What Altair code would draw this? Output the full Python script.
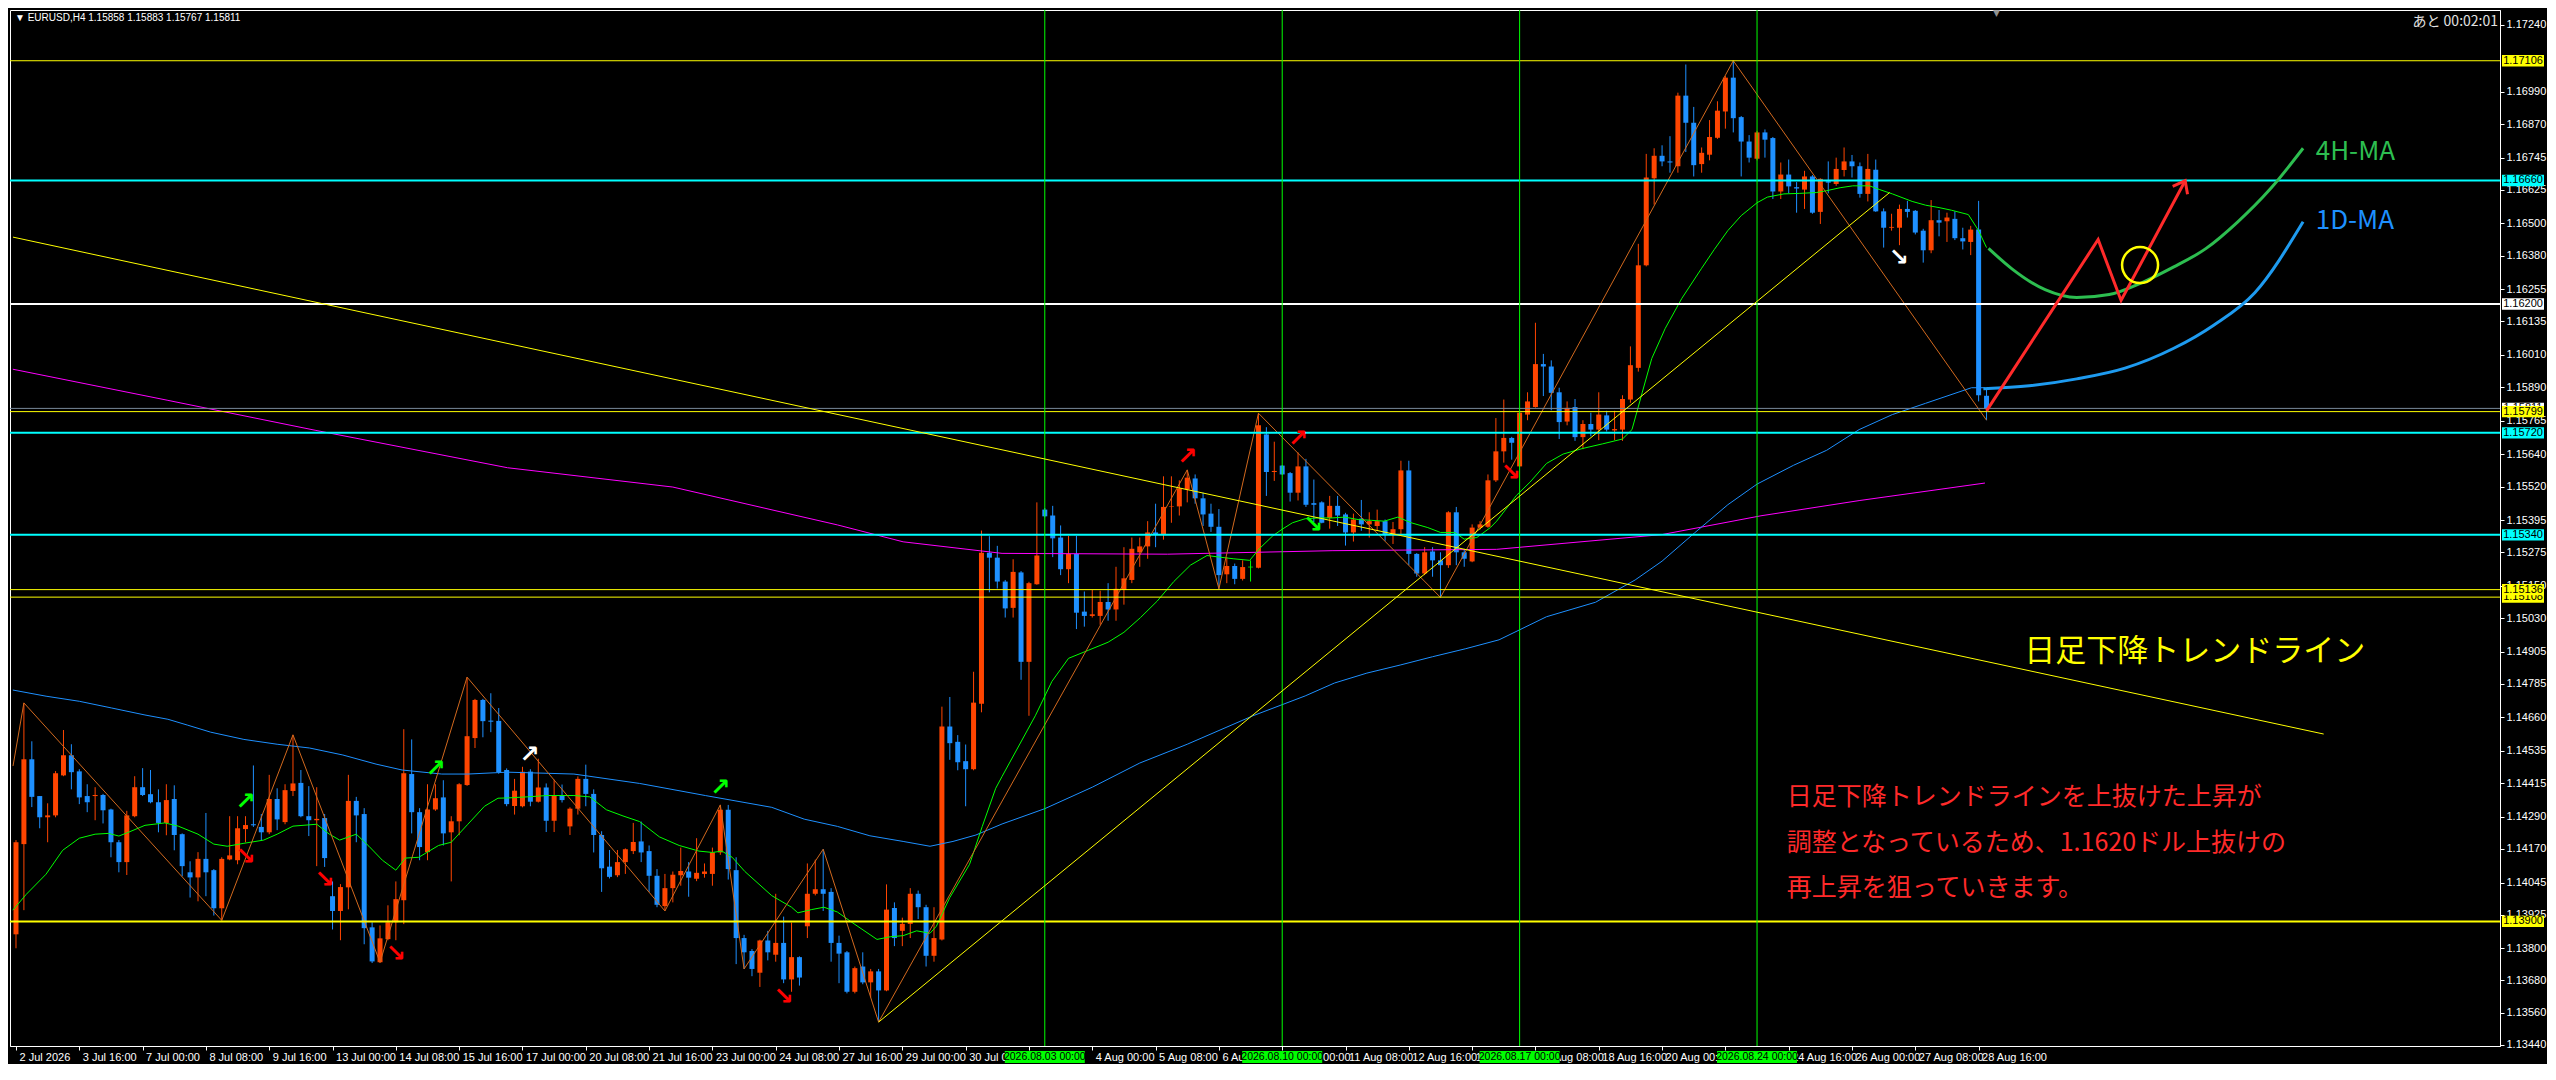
import altair as alt
import pandas as pd
import numpy as np

# ---------------- candle data (EURUSD H4, bar 0 = 2 Jul 08:00) ----------------
OPEN = [
    1.13852, 1.14188, 1.14504, 1.14367, 1.14288, 1.14295, 1.14444, 1.14519, 1.14459, 1.14367,
    1.14367, 1.14371, 1.14317, 1.14195, 1.14121, 1.14292, 1.14400, 1.14374, 1.14344, 1.14267,
    1.14356, 1.14225, 1.14083, 1.14064, 1.14133, 1.14091, 1.13949, 1.14131, 1.14128, 1.14244,
    1.14262, 1.14252, 1.14232, 1.14356, 1.14270, 1.14386, 1.14416, 1.14292, 1.14277, 1.14285,
    1.13994, 1.13939, 1.14027, 1.14349, 1.14300, 1.13878, 1.13748, 1.13834, 1.13897, 1.13979,
    1.14449, 1.14307, 1.14158, 1.14317, 1.14362, 1.14232, 1.14273, 1.14408, 1.14583, 1.14725,
    1.14648, 1.14647, 1.14464, 1.14330, 1.14329, 1.14458, 1.14346, 1.14399, 1.14275, 1.14369,
    1.14254, 1.14320, 1.14431, 1.14375, 1.14222, 1.14104, 1.14072, 1.14121, 1.14162, 1.14198,
    1.14162, 1.14070, 1.13957, 1.14024, 1.14072, 1.14086, 1.14059, 1.14077, 1.14077, 1.14157,
    1.14316, 1.14091, 1.13838, 1.13790, 1.13709, 1.13829, 1.13776, 1.13820, 1.13684, 1.13767,
    1.13882, 1.14003, 1.14020, 1.14010, 1.13820, 1.13785, 1.13638, 1.13732, 1.13673, 1.13714,
    1.13643, 1.13950, 1.13865, 1.13891, 1.14003, 1.13953, 1.13772, 1.13833, 1.14626, 1.14569,
    1.14497, 1.14467, 1.14711, 1.15273, 1.15255, 1.15166, 1.15068, 1.15200, 1.14867, 1.15156,
    1.15434, 1.15412, 1.15330, 1.15212, 1.15269, 1.15054, 1.15038, 1.15038, 1.15090, 1.15062,
    1.15135, 1.15172, 1.15275, 1.15297, 1.15349, 1.15342, 1.15444, 1.15446, 1.15509, 1.15550,
    1.15476, 1.15419, 1.15370, 1.15193, 1.15224, 1.15176, 1.15220, 1.15217, 1.15714, 1.15574,
    1.15598, 1.15570, 1.15497, 1.15595, 1.15458, 1.15461, 1.15403, 1.15448, 1.15416, 1.15349,
    1.15400, 1.15379, 1.15373, 1.15391, 1.15342, 1.15361, 1.15580, 1.15269, 1.15196, 1.15278,
    1.15245, 1.15227, 1.15424, 1.15275, 1.15241, 1.15367, 1.15370, 1.15543, 1.15651, 1.15701,
    1.15595, 1.15788, 1.15816, 1.15976, 1.15967, 1.15871, 1.15762, 1.15816, 1.15704, 1.15753,
    1.15732, 1.15785, 1.15729, 1.15732, 1.15844, 1.15962, 1.16344, 1.16668, 1.16752, 1.16731,
    1.16713, 1.16976, 1.16875, 1.16721, 1.16756, 1.16819, 1.16917, 1.17043, 1.16896, 1.16805,
    1.16741, 1.16839, 1.16818, 1.16619, 1.16682, 1.16635, 1.16626, 1.16675, 1.16543, 1.16657,
    1.16647, 1.16699, 1.16731, 1.16713, 1.16610, 1.16700, 1.16545, 1.16484, 1.16484, 1.16554,
    1.16547, 1.16473, 1.16400, 1.16512, 1.16508, 1.16517, 1.16445, 1.16431, 1.16477, 1.15858,
]
HIGH = [
    1.14203, 1.14714, 1.14571, 1.14367, 1.14340, 1.14460, 1.14613, 1.14560, 1.14467, 1.14411,
    1.14400, 1.14375, 1.14320, 1.14203, 1.14312, 1.14441, 1.14471, 1.14464, 1.14392, 1.14411,
    1.14407, 1.14228, 1.14124, 1.14158, 1.14304, 1.14095, 1.14139, 1.14292, 1.14292, 1.14292,
    1.14481, 1.14300, 1.14446, 1.14396, 1.14411, 1.14595, 1.14464, 1.14404, 1.14400, 1.14300,
    1.14049, 1.14039, 1.14446, 1.14364, 1.14322, 1.13897, 1.13885, 1.13960, 1.14049, 1.14616,
    1.14578, 1.14322, 1.14411, 1.14411, 1.14426, 1.14292, 1.14415, 1.14810, 1.14729, 1.14729,
    1.14750, 1.14695, 1.14470, 1.14431, 1.14476, 1.14467, 1.14506, 1.14414, 1.14428, 1.14410,
    1.14325, 1.14440, 1.14484, 1.14392, 1.14236, 1.14166, 1.14166, 1.14172, 1.14267, 1.14272,
    1.14183, 1.14095, 1.14077, 1.14086, 1.14175, 1.14121, 1.14210, 1.14116, 1.14175, 1.14334,
    1.14334, 1.14139, 1.13850, 1.13797, 1.13832, 1.13865, 1.14003, 1.13918, 1.13896, 1.13770,
    1.14116, 1.14130, 1.14169, 1.14024, 1.13847, 1.13790, 1.13732, 1.13785, 1.13723, 1.13723,
    1.14038, 1.13971, 1.13914, 1.14024, 1.14015, 1.13962, 1.13953, 1.14700, 1.14736, 1.14594,
    1.14559, 1.14830, 1.15356, 1.15335, 1.15299, 1.15172, 1.15249, 1.15205, 1.15165, 1.15461,
    1.15440, 1.15448, 1.15375, 1.15336, 1.15336, 1.15129, 1.15135, 1.15132, 1.15160, 1.15221,
    1.15294, 1.15330, 1.15330, 1.15391, 1.15456, 1.15558, 1.15558, 1.15543, 1.15582, 1.15565,
    1.15497, 1.15456, 1.15436, 1.15257, 1.15233, 1.15245, 1.15245, 1.15793, 1.15741, 1.15687,
    1.15600, 1.15574, 1.15647, 1.15623, 1.15546, 1.15465, 1.15485, 1.15485, 1.15422, 1.15419,
    1.15470, 1.15424, 1.15434, 1.15397, 1.15388, 1.15616, 1.15616, 1.15272, 1.15294, 1.15294,
    1.15275, 1.15428, 1.15444, 1.15288, 1.15379, 1.15391, 1.15565, 1.15775, 1.15844, 1.15705,
    1.15800, 1.15871, 1.16130, 1.16014, 1.15990, 1.15888, 1.15837, 1.15846, 1.15767, 1.15795,
    1.15871, 1.15802, 1.15802, 1.15860, 1.16042, 1.16424, 1.16759, 1.16780, 1.16791, 1.16825,
    1.16987, 1.17092, 1.16934, 1.16783, 1.16885, 1.16955, 1.17049, 1.17106, 1.16900, 1.16829,
    1.16845, 1.16850, 1.16822, 1.16727, 1.16738, 1.16654, 1.16696, 1.16680, 1.16668, 1.16731,
    1.16745, 1.16783, 1.16755, 1.16727, 1.16759, 1.16738, 1.16556, 1.16536, 1.16570, 1.16584,
    1.16550, 1.16480, 1.16587, 1.16550, 1.16540, 1.16545, 1.16484, 1.16491, 1.16584, 1.15883,
]
LOW = [
    1.13800, 1.13942, 1.14326, 1.14247, 1.14195, 1.14288, 1.14441, 1.14392, 1.14337, 1.14307,
    1.14277, 1.14265, 1.14139, 1.14083, 1.14073, 1.14288, 1.14367, 1.14340, 1.14232, 1.14221,
    1.14165, 1.14068, 1.13989, 1.13975, 1.13994, 1.13922, 1.13904, 1.14128, 1.14113, 1.14195,
    1.14252, 1.14200, 1.14225, 1.14240, 1.14262, 1.14367, 1.14288, 1.14218, 1.14106, 1.14103,
    1.13870, 1.13830, 1.13945, 1.14195, 1.13815, 1.13745, 1.13745, 1.13830, 1.13830, 1.13890,
    1.14228, 1.14128, 1.14128, 1.14312, 1.14183, 1.14049, 1.14221, 1.14405, 1.14546, 1.14586,
    1.14605, 1.14450, 1.14329, 1.14298, 1.14325, 1.14329, 1.14343, 1.14233, 1.14233, 1.14343,
    1.14222, 1.14298, 1.14329, 1.14157, 1.14010, 1.14060, 1.14065, 1.14077, 1.14151, 1.14121,
    1.14010, 1.13953, 1.13939, 1.13971, 1.14033, 1.13992, 1.14050, 1.14063, 1.14033, 1.14148,
    1.14056, 1.13741, 1.13723, 1.13696, 1.13656, 1.13755, 1.13750, 1.13670, 1.13638, 1.13661,
    1.13838, 1.13997, 1.13939, 1.13750, 1.13670, 1.13632, 1.13632, 1.13666, 1.13617, 1.13525,
    1.13640, 1.13808, 1.13808, 1.13838, 1.13909, 1.13732, 1.13750, 1.13829, 1.14502, 1.14463,
    1.14329, 1.14463, 1.14679, 1.15126, 1.15140, 1.15032, 1.15032, 1.14800, 1.14666, 1.15154,
    1.15405, 1.15257, 1.15190, 1.15160, 1.14989, 1.14998, 1.15032, 1.15005, 1.15020, 1.15020,
    1.15080, 1.15160, 1.15221, 1.15251, 1.15294, 1.15322, 1.15385, 1.15412, 1.15461, 1.15456,
    1.15373, 1.15351, 1.15139, 1.15160, 1.15156, 1.15170, 1.15166, 1.15215, 1.15485, 1.15541,
    1.15563, 1.15464, 1.15468, 1.15444, 1.15388, 1.15383, 1.15363, 1.15373, 1.15300, 1.15315,
    1.15355, 1.15330, 1.15355, 1.15318, 1.15306, 1.15342, 1.15227, 1.15184, 1.15190, 1.15184,
    1.15107, 1.15217, 1.15227, 1.15221, 1.15238, 1.15360, 1.15366, 1.15537, 1.15609, 1.15620,
    1.15592, 1.15767, 1.15814, 1.15857, 1.15804, 1.15697, 1.15748, 1.15690, 1.15659, 1.15707,
    1.15693, 1.15725, 1.15693, 1.15690, 1.15832, 1.15948, 1.16340, 1.16570, 1.16713, 1.16689,
    1.16689, 1.16766, 1.16675, 1.16689, 1.16735, 1.16815, 1.16853, 1.16839, 1.16675, 1.16727,
    1.16735, 1.16745, 1.16591, 1.16591, 1.16612, 1.16540, 1.16554, 1.16536, 1.16498, 1.16612,
    1.16640, 1.16675, 1.16671, 1.16596, 1.16582, 1.16543, 1.16410, 1.16473, 1.16419, 1.16522,
    1.16459, 1.16354, 1.16389, 1.16452, 1.16431, 1.16438, 1.16403, 1.16382, 1.15837, 1.15767,
]
CLOSE = [
    1.14195, 1.14504, 1.14364, 1.14288, 1.14295, 1.14452, 1.14519, 1.14456, 1.14362, 1.14344,
    1.14371, 1.14314, 1.14195, 1.14121, 1.14295, 1.14400, 1.14371, 1.14344, 1.14267, 1.14352,
    1.14222, 1.14106, 1.14064, 1.14133, 1.14083, 1.13949, 1.14133, 1.14146, 1.14247, 1.14259,
    1.14258, 1.14232, 1.14356, 1.14280, 1.14389, 1.14414, 1.14292, 1.14277, 1.14282, 1.14136,
    1.13939, 1.14028, 1.14349, 1.14295, 1.13875, 1.13751, 1.13837, 1.13897, 1.13983, 1.14452,
    1.14307, 1.14177, 1.14317, 1.14359, 1.14228, 1.14273, 1.14411, 1.14590, 1.14725, 1.14646,
    1.14644, 1.14456, 1.14337, 1.14387, 1.14458, 1.14346, 1.14399, 1.14275, 1.14369, 1.14352,
    1.14320, 1.14431, 1.14375, 1.14222, 1.14098, 1.14066, 1.14121, 1.14169, 1.14196, 1.14157,
    1.14070, 1.13962, 1.14024, 1.14074, 1.14088, 1.14063, 1.14081, 1.14086, 1.14157, 1.14316,
    1.14095, 1.13838, 1.13785, 1.13723, 1.13829, 1.13785, 1.13820, 1.13684, 1.13767, 1.13691,
    1.14003, 1.14020, 1.14003, 1.13820, 1.13780, 1.13638, 1.13726, 1.13673, 1.13714, 1.13643,
    1.13944, 1.13838, 1.13891, 1.14003, 1.13953, 1.13772, 1.13838, 1.14626, 1.14564, 1.14493,
    1.14467, 1.14715, 1.15273, 1.15255, 1.15166, 1.15066, 1.15202, 1.14867, 1.15160, 1.15263,
    1.15409, 1.15327, 1.15212, 1.15269, 1.15050, 1.15038, 1.15044, 1.15090, 1.15062, 1.15139,
    1.15178, 1.15288, 1.15297, 1.15349, 1.15342, 1.15444, 1.15446, 1.15513, 1.15553, 1.15476,
    1.15416, 1.15370, 1.15190, 1.15224, 1.15176, 1.15220, 1.15220, 1.15748, 1.15574, 1.15578,
    1.15565, 1.15497, 1.15595, 1.15452, 1.15452, 1.15385, 1.15448, 1.15412, 1.15349, 1.15397,
    1.15379, 1.15391, 1.15391, 1.15342, 1.15361, 1.15580, 1.15269, 1.15196, 1.15275, 1.15245,
    1.15227, 1.15424, 1.15275, 1.15251, 1.15367, 1.15379, 1.15543, 1.15651, 1.15701, 1.15683,
    1.15795, 1.15837, 1.15976, 1.15967, 1.15869, 1.15760, 1.15813, 1.15704, 1.15753, 1.15732,
    1.15788, 1.15732, 1.15734, 1.15846, 1.15972, 1.16344, 1.16671, 1.16752, 1.16731, 1.16727,
    1.16976, 1.16875, 1.16717, 1.16763, 1.16822, 1.16920, 1.17043, 1.16892, 1.16805, 1.16745,
    1.16839, 1.16812, 1.16619, 1.16682, 1.16638, 1.16630, 1.16675, 1.16540, 1.16666, 1.16652,
    1.16703, 1.16731, 1.16713, 1.16610, 1.16703, 1.16545, 1.16484, 1.16487, 1.16554, 1.16543,
    1.16466, 1.16400, 1.16512, 1.16503, 1.16522, 1.16445, 1.16433, 1.16477, 1.15860, 1.15811,
]

# ---------------- indicator lines (bar, price) ----------------
MA_4H = [
    (-0.4, 1.13942), (1.3, 1.14001), (3.8, 1.14076), (5.9, 1.14165), (8, 1.14210), (10, 1.14225),
    (11.7, 1.14228), (13, 1.14218), (14.2, 1.14232), (16.3, 1.14258), (18.8, 1.14267), (20.5, 1.14255),
    (23, 1.14225), (25, 1.14188), (26.7, 1.14180), (28.8, 1.14191), (31.3, 1.14203), (33, 1.14225),
    (35, 1.14255), (38, 1.14262), (39.6, 1.14225), (40.9, 1.14203), (43, 1.14225), (44.6, 1.14180),
    (46.3, 1.14128), (48, 1.14091), (49.2, 1.14136), (50.9, 1.14139), (53.4, 1.14183), (55, 1.14195),
    (57.1, 1.14262), (59.2, 1.14329), (60.9, 1.14359), (62.1, 1.14360), (64.6, 1.14364), (67.1, 1.14369),
    (70.5, 1.14369), (72.5, 1.14364), (74.6, 1.14316), (76.7, 1.14293), (78.8, 1.14272), (81.3, 1.14215),
    (83.8, 1.14183), (86.3, 1.14162), (88, 1.14157), (89.2, 1.14162), (90.5, 1.14139), (92.1, 1.14086),
    (95.5, 1.13996), (98, 1.13953), (98.8, 1.13932), (100.5, 1.13944), (102.1, 1.13953), (103.8, 1.13935),
    (105.9, 1.13891), (108.8, 1.13833), (110.5, 1.13843), (112.1, 1.13847), (113.8, 1.13865), (115.5, 1.13856),
    (116.3, 1.13882), (118, 1.13989), (120.5, 1.14113), (122.1, 1.14254), (123.8, 1.14396), (124.6, 1.14440),
    (128.8, 1.14666), (130.9, 1.14794), (133, 1.14880), (135.5, 1.14910), (138, 1.14940), (140, 1.14977),
    (142.1, 1.15032), (144.2, 1.15093), (146.3, 1.15166), (148.4, 1.15227), (150.5, 1.15263), (152.1, 1.15257),
    (153.8, 1.15251), (155.9, 1.15245), (157.1, 1.15288), (158.8, 1.15336), (160, 1.15361), (161.3, 1.15385),
    (162.9, 1.15400), (164.6, 1.15403), (166.3, 1.15403), (167.9, 1.15406), (169.6, 1.15397), (171.3, 1.15394),
    (172.9, 1.15391), (174.6, 1.15406), (176.3, 1.15385), (178.4, 1.15367), (180, 1.15349), (181.8, 1.15349),
    (183, 1.15324), (184.6, 1.15330), (186.3, 1.15367), (187.1, 1.15391), (189.6, 1.15487), (191.3, 1.15536),
    (193.4, 1.15606), (195.5, 1.15641), (198, 1.15662), (200.5, 1.15679), (203, 1.15697), (204.2, 1.15732),
    (205.5, 1.15871), (206.7, 1.15997), (208.4, 1.16109), (210.5, 1.16221), (213, 1.16333), (214.6, 1.16403),
    (216.3, 1.16473), (218, 1.16529), (220, 1.16577), (221.3, 1.16598), (223.4, 1.16610), (225.4, 1.16612),
    (227.5, 1.16615), (228.8, 1.16622), (230.5, 1.16633), (232.1, 1.16640), (234.2, 1.16640), (235.5, 1.16626),
    (237.1, 1.16610), (239.6, 1.16582), (241.3, 1.16568), (243, 1.16559), (244.6, 1.16549), (246.7, 1.16533),
    (248, 1.16473), (249, 1.16410),
]
MA_1D = [
    (-0.4, 1.14762), (3.8, 1.14739), (8, 1.14720), (12.1, 1.14695), (16.3, 1.14669), (19.2, 1.14653),
    (21.7, 1.14631), (24.6, 1.14605), (28.8, 1.14578), (33, 1.14560), (37.1, 1.14546), (41.3, 1.14520),
    (45.5, 1.14486), (48.8, 1.14464), (53.8, 1.14449), (57.1, 1.14449), (62.1, 1.14456), (70.5, 1.14449),
    (78.8, 1.14414), (87.1, 1.14369), (95.5, 1.14325), (99.6, 1.14281), (103.8, 1.14254), (107.9, 1.14219),
    (112.1, 1.14198), (115.5, 1.14180), (118.4, 1.14198), (121.3, 1.14222), (124.6, 1.14263), (130, 1.14320),
    (136, 1.14400), (142, 1.14490), (148, 1.14560), (156.3, 1.14666), (162.9, 1.14740), (166.6, 1.14788),
    (170.7, 1.14825), (174.9, 1.14855), (179, 1.14886), (183.2, 1.14916), (187.4, 1.14949), (193.4, 1.15035),
    (199.6, 1.15089), (204.6, 1.15172), (208, 1.15242), (212.1, 1.15347), (216.3, 1.15452), (220, 1.15529),
    (224.6, 1.15599), (228.8, 1.15655), (232.9, 1.15732), (237.1, 1.15788), (241.3, 1.15830), (245.4, 1.15871),
    (247.1, 1.15888), (248.8, 1.15888),
]
MA_LONG = [
    (-0.4, 1.15957), (19.2, 1.15841), (37.9, 1.15729), (62.1, 1.15590), (83, 1.15518), (103.8, 1.15377),
    (112.1, 1.15314), (124.6, 1.15271), (145.5, 1.15268), (166.3, 1.15281), (187.1, 1.15286), (208, 1.15341),
    (220.5, 1.15411), (233, 1.15468), (248.8, 1.15533),
]
ZIGZAG = [
    (-0.375, 1.14479), (1, 1.14714), (26, 1.13904), (35, 1.14595), (46, 1.13748), (57, 1.14810),
    (82, 1.13939), (89, 1.14334), (92, 1.13723), (102, 1.14169), (109, 1.13525), (148, 1.15582),
    (152, 1.15139), (157, 1.15793), (180, 1.15107), (217, 1.17106), (249, 1.15767),
]
TREND_DOWN = [(-0.375, 1.16449), (291.6, 1.14598)]
TREND_UP = [(109, 1.13525), (236.75, 1.16615)]

# ---------------- hand-drawn scenario ----------------
PROJ_4H = [
    (249.25, 1.16407), (252.25, 1.16330), (256.4, 1.16253), (260.4, 1.16224), (264.5, 1.16235),
    (268.6, 1.16279), (272.6, 1.16337), (276.75, 1.16407), (280.75, 1.16506), (284.9, 1.16630), (289, 1.16780),
]
PROJ_1D = [
    (248.6, 1.15884), (254.4, 1.15895), (260.4, 1.15921), (266.5, 1.15961), (272.6, 1.16034),
    (277.75, 1.16122), (282.9, 1.16242), (289, 1.16506),
]
PROJ_PRICE = [(249, 1.15802), (263.1, 1.16440), (266, 1.16213), (274.1, 1.16659)]
CIRCLE = (268.4, 1.16345)

# signal arrows: bar, price, glyph, colour
SIGNALS = [
    (29, 1.14344, "↗", "#00FF00"), (53, 1.14467, "↗", "#00FF00"), (89, 1.14396, "↗", "#00FF00"),
    (29, 1.14139, "↘", "#FF0000"), (39, 1.14054, "↘", "#FF0000"), (48, 1.13780, "↘", "#FF0000"),
    (97, 1.13617, "↘", "#FF0000"), (188.9, 1.15571, "↘", "#FF0000"),
    (64.9, 1.14520, "↗", "#FFFFFF"), (148, 1.15631, "↗", "#FF0000"), (162, 1.15696, "↗", "#FF0000"),
    (163.9, 1.15375, "↘", "#00FF00"), (237.9, 1.16372, "↘", "#FFFFFF"),
]

# horizontal levels
HL_PRICES = [1.17106, 1.16660, 1.16200, 1.15811, 1.15799, 1.15720, 1.15340, 1.15136, 1.15108, 1.13900]
HL_COLORS = ["#FFFF00", "#00FFFF", "#FFFFFF", "#778899", "#FFFF00", "#00FFFF", "#00FFFF", "#FFFF00", "#FFFF00", "#FFFF00"]
HL_WIDTHS = [1, 2, 2, 1, 1, 2, 2, 1, 1, 2]
# price tags on the right scale (drawn in this order)
TAG_PRICES = [1.15811, 1.17106, 1.16660, 1.16200, 1.15799, 1.15720, 1.15340, 1.15108, 1.15136, 1.13900]
TAG_COLORS = ["#FFFFFF", "#FFFF00", "#00FFFF", "#FFFFFF", "#FFFF00", "#00FFFF", "#00FFFF", "#FFFF00", "#FFFF00", "#FFFF00"]

# vertical period separators
VL_BARS = [130, 160, 190, 220]
VL_LABELS = ["2026.08.03 00:00", "2026.08.10 00:00", "2026.08.17 00:00", "2026.08.24 00:00"]

# axes (labels fully covered by the date tags are left blank)
TIME_TICKS = list(range(0, 249, 8))
TIME_LABELS = [
    "2 Jul 2026", "3 Jul 16:00", "7 Jul 00:00", "8 Jul 08:00", "9 Jul 16:00", "13 Jul 00:00",
    "14 Jul 08:00", "15 Jul 16:00", "17 Jul 00:00", "20 Jul 08:00", "21 Jul 16:00", "23 Jul 00:00",
    "24 Jul 08:00", "27 Jul 16:00", "29 Jul 00:00", "30 Jul 08:00", "", "4 Aug 00:00",
    "5 Aug 08:00", "6 Aug 16:00", "10 Aug 00:00", "11 Aug 08:00", "12 Aug 16:00", "14 Aug 00:00",
    "17 Aug 08:00", "18 Aug 16:00", "20 Aug 00:00", "", "24 Aug 16:00", "26 Aug 00:00",
    "27 Aug 08:00", "28 Aug 16:00",
]
PRICE_TICKS = [
    1.17240, 1.16990, 1.16870, 1.16745, 1.16625, 1.16500, 1.16380, 1.16255, 1.16135, 1.16010,
    1.15890, 1.15765, 1.15640, 1.15520, 1.15395, 1.15275, 1.15150, 1.15030, 1.14905, 1.14785,
    1.14660, 1.14535, 1.14415, 1.14290, 1.14170, 1.14045, 1.13925, 1.13800, 1.13680, 1.13560, 1.13440,
]

HEADER = "▼  EURUSD,H4  1.15858 1.15883 1.15767 1.15811"
CLOCK = "あと 00:02:01"
NOTE_TREND = "日足下降トレンドライン"
NOTE_LINES = [
    "日足下降トレンドラインを上抜けた上昇が",
    "調整となっているため、1.1620ドル上抜けの",
    "再上昇を狙っていきます。",
]

# ---------------- chart ----------------
W, H = 2490, 1036
xs = alt.Scale(domain=[-0.125, 313.25], nice=False, zero=False)
ys = alt.Scale(domain=[1.13436, 1.17295], nice=False, zero=False)

label_expr = "[" + ",".join("'%s'" % s for s in TIME_LABELS) + "][round(datum.value / 8)]"
x_axis = alt.Axis(values=TIME_TICKS, labelExpr=label_expr, title=None, grid=False, orient="bottom",
                  domainColor="#FFFFFF", tickColor="#FFFFFF", tickSize=4, labelColor="#FFFFFF",
                  labelFont="Liberation Sans", labelFontSize=11, labelAlign="left", labelBaseline="top",
                  labelPadding=1, labelOffset=3, labelFlush=False, labelOverlap=False)
y_axis = alt.Axis(values=PRICE_TICKS, format=".5f", title=None, grid=False, orient="right",
                  domainColor="#FFFFFF", tickColor="#FFFFFF", tickSize=4, labelColor="#FFFFFF",
                  labelFont="Liberation Sans", labelFontSize=11, labelPadding=2, labelFlush=False,
                  labelOverlap=False)


def X(f):
    return alt.X(f, type="quantitative", scale=xs, axis=x_axis)


def Y(f):
    return alt.Y(f, type="quantitative", scale=ys, axis=y_axis)


n = min(len(OPEN), len(HIGH), len(LOW), len(CLOSE))
o = np.array(OPEN[:n]); c = np.array(CLOSE[:n])
h = np.maximum(np.array(HIGH[:n]), np.maximum(o, c))
l = np.minimum(np.array(LOW[:n]), np.minimum(o, c))
dirs = np.where(c > o, "up", np.where(c < o, "down", "doji"))
cdf = pd.DataFrame({"bar": np.arange(n), "open": o, "high": h, "low": l, "close": c, "dir": dirs})
cscale = alt.Scale(domain=["up", "down", "doji"], range=["#FF4500", "#1E90FF", "#00FF00"])


def pts(pairs):
    return pd.DataFrame(pairs, columns=["bar", "price"])


one = pd.DataFrame({"k": [0]})
layers = []

# candles
layers.append(alt.Chart(cdf).mark_rule(strokeWidth=1).encode(
    x=X("bar"), y=Y("low"), y2="high", color=alt.Color("dir:N", scale=cscale, legend=None)))
layers.append(alt.Chart(cdf).mark_bar(size=5).encode(
    x=X("bar"), y=Y("open"), y2="close", color=alt.Color("dir:N", scale=cscale, legend=None)))
layers.append(alt.Chart(cdf[cdf["dir"] == "doji"]).mark_point(shape="stroke", size=25, strokeWidth=1,
                                                             color="#00FF00", filled=False).encode(
    x=X("bar"), y=Y("close")))

# moving averages
for pairs, col in [(MA_LONG, "#FF00FF"), (MA_1D, "#1E90FF"), (MA_4H, "#00FF00")]:
    layers.append(alt.Chart(pts(pairs)).mark_line(color=col, strokeWidth=1, clip=True).encode(
        x=X("bar"), y=Y("price")))
# zigzag
layers.append(alt.Chart(pts(ZIGZAG)).mark_line(color="#D2691E", strokeWidth=1, clip=True).encode(
    x=X("bar"), y=Y("price")))

# horizontal levels
hdf = pd.DataFrame({"price": HL_PRICES, "color": HL_COLORS, "w": HL_WIDTHS})
layers.append(alt.Chart(hdf).mark_rule().encode(
    y=Y("price"), x=alt.value(0), x2=alt.value(W),
    color=alt.Color("color:N", scale=None), strokeWidth=alt.StrokeWidth("w:Q", scale=None)))

# vertical separators
vdf = pd.DataFrame({"bar": VL_BARS, "label": VL_LABELS})
layers.append(alt.Chart(vdf).mark_rule(color="#00FF00", strokeWidth=1).encode(
    x=X("bar"), y=alt.value(0), y2=alt.value(H)))

# trend lines
for pairs in [TREND_DOWN, TREND_UP]:
    layers.append(alt.Chart(pts(pairs)).mark_line(color="#FFFF00", strokeWidth=1, clip=True).encode(
        x=X("bar"), y=Y("price")))

# scenario drawings
layers.append(alt.Chart(pts(PROJ_4H)).mark_line(color="#2DBE50", strokeWidth=3, interpolate="monotone").encode(
    x=X("bar"), y=Y("price")))
layers.append(alt.Chart(pts(PROJ_1D)).mark_line(color="#1E9BF0", strokeWidth=3, interpolate="monotone").encode(
    x=X("bar"), y=Y("price")))
layers.append(alt.Chart(pts(PROJ_PRICE)).mark_line(color="#FF2A2A", strokeWidth=3).encode(
    x=X("bar"), y=Y("price")))
layers.append(alt.Chart(pts(PROJ_PRICE[-1:])).mark_point(
    shape="M-0.7,0.9L0,0L0.7,0.9", size=576, angle=28, filled=False, stroke="#FF2A2A", strokeWidth=3,
    opacity=1).encode(x=X("bar"), y=Y("price")))
layers.append(alt.Chart(pts([CIRCLE])).mark_point(
    shape="circle", size=1296, filled=False, stroke="#FFFF00", strokeWidth=2.5, opacity=1).encode(
    x=X("bar"), y=Y("price")))

# signal arrows
sdf = pd.DataFrame(SIGNALS, columns=["bar", "price", "glyph", "color"])
layers.append(alt.Chart(sdf).mark_text(font="DejaVu Sans", fontSize=24, fontWeight="bold").encode(
    x=X("bar"), y=Y("price"), text="glyph:N", color=alt.Color("color:N", scale=None)))

# annotation texts
layers.append(alt.Chart(pd.DataFrame({"bar": [253.75], "price": [1.14902], "t": [NOTE_TREND]})).mark_text(
    align="left", baseline="middle", font="Noto Sans CJK JP", fontSize=31, color="#FFFF00").encode(
    x=X("bar"), y=Y("price"), text="t:N"))
layers.append(alt.Chart(pd.DataFrame({"bar": [223.75] * 3, "price": [1.14364, 1.14193, 1.14025],
                                      "t": NOTE_LINES})).mark_text(
    align="left", baseline="middle", font="Noto Sans CJK JP", fontSize=25, color="#FF2A2A").encode(
    x=X("bar"), y=Y("price"), text="t:N"))
layers.append(alt.Chart(pd.DataFrame({"bar": [290.6, 290.6], "price": [1.16765, 1.16509],
                                      "t": ["4H-MA", "1D-MA"], "c": ["#2DBE50", "#1E90FF"]})).mark_text(
    align="left", baseline="middle", font="Noto Sans CJK JP", fontSize=26).encode(
    x=X("bar"), y=Y("price"), text="t:N", color=alt.Color("c:N", scale=None)))

# right-scale price tags
TAG_PATH = "M-1,-0.27L1,-0.27L1,0.27L-1,0.27Z"
for p, col in zip(TAG_PRICES, TAG_COLORS):
    tdf = pd.DataFrame({"price": [p], "t": ["%.5f" % p]})
    layers.append(alt.Chart(tdf).mark_point(shape=TAG_PATH, size=42 * 42, filled=True, color=col,
                                            strokeWidth=0, opacity=1).encode(
        x=alt.value(W + 23), y=Y("price")))
    layers.append(alt.Chart(tdf).mark_text(font="Liberation Sans", fontSize=11, color="#000000",
                                           align="center", baseline="middle").encode(
        x=alt.value(W + 23), y=Y("price"), text="t:N"))

# date tags on the time scale
DATE_PATH = "M-1,-0.15L1,-0.15L1,0.15L-1,0.15Z"
layers.append(alt.Chart(vdf).mark_point(shape=DATE_PATH, size=80 * 80, filled=True, color="#00FF00",
                                        strokeWidth=0, opacity=1).encode(
    x=X("bar"), y=alt.value(H + 11)))
layers.append(alt.Chart(vdf).mark_text(font="Liberation Sans", fontSize=10.5, color="#000000",
                                       align="center", baseline="middle").encode(
    x=X("bar"), y=alt.value(H + 11), text="label:N"))

# header / clock / shift marker
layers.append(alt.Chart(one).mark_text(align="left", baseline="middle", font="Liberation Sans",
                                       fontSize=10, color="#FFFFFF").encode(
    x=alt.value(5), y=alt.value(8), text=alt.value(HEADER)))
layers.append(alt.Chart(one).mark_text(align="right", baseline="middle", font="Noto Sans CJK JP",
                                       fontSize=14, color="#E0E0E0").encode(
    x=alt.value(W - 2), y=alt.value(12), text=alt.value(CLOCK)))
layers.append(alt.Chart(pd.DataFrame({"bar": [250.25]})).mark_text(
    baseline="middle", font="DejaVu Sans", fontSize=9, color="#909090").encode(
    x=X("bar"), y=alt.value(3), text=alt.value("▼")))

chart = alt.layer(*layers).properties(width=W, height=H, padding=1, background="#000000").configure_view(
    stroke="#FFFFFF", strokeWidth=1)

chart.save("out.html", embed_options={"renderer": "svg", "actions": False})
